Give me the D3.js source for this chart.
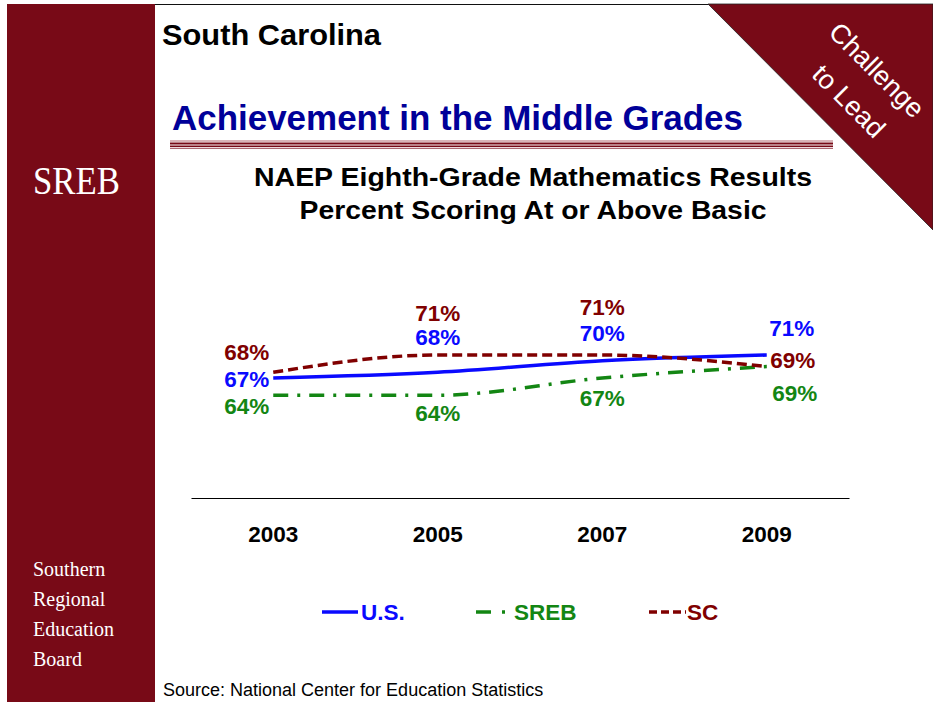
<!DOCTYPE html>
<html><head><meta charset="utf-8">
<script src="https://cdn.jsdelivr.net/npm/d3@7"></script>
<style>body{margin:0;background:#fff}svg{display:block}</style>
</head><body>
<svg id="c" width="933" height="702"></svg>
<script>
// ---- data ----
const years = ["2003", "2005", "2007", "2009"];
const usValues = [67, 68, 70, 71];
const srebValues = [64, 64, 67, 69];
const scValues = [68, 71, 71, 69];
const seriesNames = ["U.S.", "SREB", "SC"];

// ---- layout / style (not data) ----
const MAROON = "#780a17";
const styles = {
  "U.S.": {color: "#0a0aff", dash: null, legendDash: null},
  "SREB": {color: "#138613", dash: "15,9,3,9", legendDash: "15,11,3,9"},
  "SC":   {color: "#800000", dash: "10,5", legendDash: "8,4"}
};
// label offsets [dx, dy, anchor] relative to each point
const labelLayout = {
  "U.S.": [[-4, 1, "end"], [0, -35, "middle"], [0, -28, "middle"], [25, -27, "middle"]],
  "SREB": [[-4, 11, "end"], [0, 18, "middle"], [0, 20, "middle"], [28, 27, "middle"]],
  "SC":   [[-4, -20, "end"], [0, -42, "middle"], [0, -48, "middle"], [26, -6, "middle"]]
};

const series = seriesNames.map((name, i) => ({name, values: [usValues, srebValues, scValues][i]}));

const svg = d3.select("#c");
const F = "'Liberation Sans', Arial, sans-serif";
const SERIF = "'Liberation Serif', 'Times New Roman', serif";

// background frame
svg.append("rect").attr("x", 7).attr("y", 4).attr("width", 148).attr("height", 698).attr("fill", MAROON);
svg.append("line").attr("x1", 155).attr("x2", 933).attr("y1", 4.5).attr("y2", 4.5).attr("stroke", "#111").attr("stroke-width", 1.2);
svg.append("path").attr("d", "M708,4 L933,4 L933,230 Z").attr("fill", MAROON).attr("stroke", "#222").attr("stroke-width", 0.8);

// corner text
const corner = svg.append("g").attr("fill", "#fff").attr("font-family", F).attr("font-size", 27);
corner.append("text").attr("transform", "translate(877,70) rotate(45)").attr("text-anchor", "middle").attr("dy", "0.35em").text("Challenge");
corner.append("text").attr("transform", "translate(849,101) rotate(45)").attr("text-anchor", "middle").attr("dy", "0.35em").text("to Lead");

// left bar text
svg.append("text").attr("x", 33).attr("y", 194).attr("fill", "#fff").attr("font-family", SERIF).attr("font-size", 39)
  .attr("textLength", 87).attr("lengthAdjust", "spacingAndGlyphs").text("SREB");
["Southern", "Regional", "Education", "Board"].forEach((t, i) => {
  svg.append("text").attr("x", 33).attr("y", 576 + i * 30).attr("fill", "#fff").attr("font-family", SERIF).attr("font-size", 20).text(t);
});

// headings
svg.append("text").attr("x", 162).attr("y", 45).attr("font-family", F).attr("font-weight", "bold").attr("font-size", 30)
  .attr("textLength", 219).attr("lengthAdjust", "spacingAndGlyphs").attr("fill", "#000").text("South Carolina");
svg.append("text").attr("x", 172).attr("y", 130).attr("font-family", F).attr("font-weight", "bold").attr("font-size", 35)
  .attr("textLength", 571).attr("lengthAdjust", "spacingAndGlyphs").attr("fill", "#000099").text("Achievement in the Middle Grades");
[[141, 1, "#b46a72"], [143.5, 2, MAROON], [146.2, 1.4, MAROON], [148.3, 1, "#9a4450"]].forEach(([y, w, c]) => {
  svg.append("line").attr("x1", 170).attr("x2", 833).attr("y1", y).attr("y2", y).attr("stroke", c).attr("stroke-width", w);
});

// chart title
[["NAEP Eighth-Grade Mathematics Results", 186, 558], ["Percent Scoring At or Above Basic", 219, 467]].forEach(([t, yy, w]) => {
  svg.append("text").attr("x", 533 - w / 2).attr("y", yy).attr("font-family", F).attr("font-weight", "bold").attr("font-size", 26.5)
    .attr("textLength", w).attr("lengthAdjust", "spacingAndGlyphs").attr("fill", "#000").text(t);
});

// scales
const x = d3.scaleBand().domain(years).range([191, 849]).padding(0);
const y = d3.scaleLinear().domain([46, 80]).range([498.75, 303.25]);
const cx = d => x(d) + x.bandwidth() / 2;

// axis
const axis = svg.append("g").attr("transform", "translate(0,498)")
  .call(d3.axisBottom(x).tickSize(0).tickPadding(28).tickSizeOuter(0));
axis.select(".domain").attr("stroke", "#000").attr("stroke-width", 1.2);
axis.selectAll("text").attr("font-family", F).attr("font-weight", "bold").attr("font-size", 22.5).attr("fill", "#000");

// lines
const line = d3.line().x((v, i) => cx(years[i])).y(v => y(v)).curve(d3.curveMonotoneX);
series.forEach(s => {
  const st = styles[s.name];
  svg.append("path").datum(s.values).attr("d", line).attr("fill", "none")
    .attr("stroke", st.color).attr("stroke-width", 3.5)
    .attr("stroke-dasharray", st.dash);
});
// labels
series.forEach(s => {
  const st = styles[s.name];
  s.values.forEach((v, i) => {
    const [dx, dy, anchor] = labelLayout[s.name][i];
    svg.append("text").attr("x", cx(years[i]) + dx).attr("y", y(v) + dy).attr("dy", "0.35em")
      .attr("text-anchor", anchor).attr("font-family", F).attr("font-weight", "bold").attr("font-size", 22.5)
      .attr("fill", st.color).text(v + "%");
  });
});

// legend
const legendPos = [322, 476, 649];
const legendLen = [36, 29, 37];
const legendGap = [3, 9, 1];
series.forEach((s, i) => {
  const st = styles[s.name];
  const g = svg.append("g").attr("transform", `translate(${legendPos[i]},612)`);
  g.append("line").attr("x1", 0).attr("x2", legendLen[i]).attr("y1", 0).attr("y2", 0)
    .attr("stroke", st.color).attr("stroke-width", 3.5).attr("stroke-dasharray", st.legendDash);
  g.append("text").attr("x", legendLen[i] + legendGap[i]).attr("dy", "0.36em")
    .attr("font-family", F).attr("font-weight", "bold").attr("font-size", 22.5).attr("fill", st.color).text(s.name);
});

// source
svg.append("text").attr("x", 163).attr("y", 696).attr("font-family", F).attr("font-size", 18).attr("fill", "#000")
  .text("Source: National Center for Education Statistics");
</script>
</body></html>
